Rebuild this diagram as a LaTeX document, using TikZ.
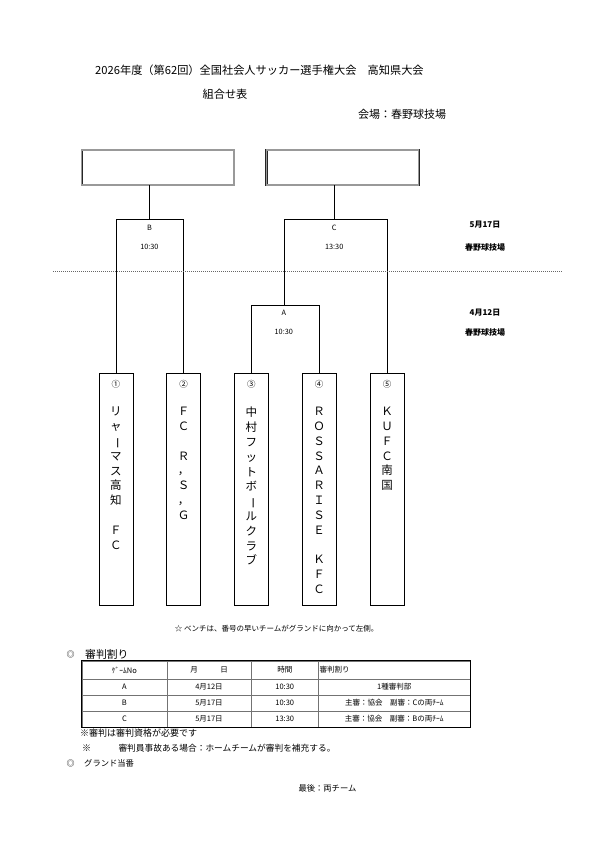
\documentclass[tikz,border=0pt]{standalone}
\usepackage{fontspec}
\usepackage{graphicx}
\newfontfamily\jpfont{Noto Sans CJK JP}
\usetikzlibrary{calc,matrix,positioning}

\newcommand{\tatebar}{\rotatebox[origin=c]{-90}{ー}}

\begin{document}
\begin{tikzpicture}[x=1pt,y=-1pt,font=\jpfont]

  \tikzstyle{finalbox} = [draw=black!85, double=black!40, double distance=1.1pt, line width=0.5pt, rectangle, minimum width=152.3pt, minimum height=35pt, inner sep=0pt]
  \tikzstyle{teambox} = [draw, rectangle, minimum width=34pt, minimum height=231.7pt, line width=0.6pt, inner sep=0pt]
  \tikzstyle{gametag} = [inner sep=0pt, font=\jpfont\fontsize{7.3}{8}\selectfont]
  \tikzstyle{venue} = [inner sep=0pt, font=\jpfont\bfseries\fontsize{8}{9}\selectfont]
  \tikzstyle{seed} = [inner sep=0pt, font=\jpfont\fontsize{8.5}{9}\selectfont]
  \tikzstyle{clubname} = [anchor=north, align=center, inner sep=0pt, font=\jpfont\fontsize{11.5}{14.8}\selectfont]
  \tikzstyle{remark} = [anchor=west, inner sep=0pt, font=\jpfont\fontsize{8.7}{10}\selectfont]

  \useasboundingbox (0,0) rectangle (595,841);

  \node[anchor=west, inner sep=0pt, font=\jpfont\fontsize{11.2}{13}\selectfont] (title) at (95,70.7) {2026年度（第62回）全国社会人サッカー選手権大会　高知県大会};
  \node[inner sep=0pt, font=\jpfont\fontsize{11.2}{13}\selectfont] (subtitle) at (225,94) {組合せ表};
  \node[anchor=west, inner sep=0pt, font=\jpfont\fontsize{11}{13}\selectfont] (place) at (358,114) {会場：春野球技場};

  \node[finalbox] (f1) at (157.85,167.5) {};
  \node[finalbox, right=32pt of f1] (f2) {};

  \node[teambox] (t1) at (115.8,489.2) {};
  \node[teambox, right=33.2pt of t1] (t2) {};
  \node[teambox, right=33.2pt of t2] (t3) {};
  \node[teambox, right=33.2pt of t3] (t4) {};
  \node[teambox, right=33.2pt of t4] (t5) {};

  \node[seed, below=7pt of t1.north] (n1) {①};
  \node[seed, below=7pt of t2.north] (n2) {②};
  \node[seed, below=7pt of t3.north] (n3) {③};
  \node[seed, below=7pt of t4.north] (n4) {④};
  \node[seed, below=7pt of t5.north] (n5) {⑤};

  \node[clubname, below=34pt of t1.north] (club1) {リ\\ャ\\\tatebar\\マ\\ス\\高\\知\\　\\Ｆ\\Ｃ};
  \node[clubname, below=34pt of t2.north] (club2) {Ｆ\\Ｃ\\　\\Ｒ\\，\\Ｓ\\，\\Ｇ};
  \node[clubname, below=34pt of t3.north] (club3) {中\\村\\フ\\ッ\\ト\\ボ\\\tatebar\\ル\\ク\\ラ\\ブ};
  \node[clubname, below=34pt of t4.north] (club4) {Ｒ\\Ｏ\\Ｓ\\Ｓ\\Ａ\\Ｒ\\Ｉ\\Ｓ\\Ｅ\\　\\Ｋ\\Ｆ\\Ｃ};
  \node[clubname, below=34pt of t5.north] (club5) {Ｋ\\Ｕ\\Ｆ\\Ｃ\\南\\国};

  \coordinate (mB) at (149.4,219.3);
  \coordinate (mA) at (283.8,305.7);
  \coordinate (mC) at (334.2,219.3);

  \draw[-,color=black!100,line width=0.6pt] (t1.north) |- (mB) -| (t2.north);
  \draw[-,color=black!100,line width=0.6pt] (t3.north) |- (mA) -| (t4.north);
  \draw[-,color=black!100,line width=0.6pt] (mA) |- (mC) -| (t5.north);
  \draw[-,color=black!100,line width=0.6pt] (mB) -- (mB |- f1.south);
  \draw[-,color=black!100,line width=0.6pt] (mC) -- (mC |- f2.south);

  \node[gametag] (gameB) at (149.4,228) {B};
  \node[gametag] (timeB) at (149.4,247) {10:30};
  \node[gametag] (gameC) at (334.2,228) {C};
  \node[gametag] (timeC) at (334.2,247) {13:30};
  \node[gametag] (gameA) at (283.8,313) {A};
  \node[gametag] (timeA) at (283.8,332) {10:30};

  \node[venue] (day2) at (485,225) {5月17日};
  \node[venue] (field2) at (485,247) {春野球技場};
  \node[venue] (day1) at (485,313) {4月12日};
  \node[venue] (field1) at (485,332) {春野球技場};

  \draw[color=black!60,line width=0.5pt,dash pattern=on 1pt off 1pt] (53,271) -- (563,271);

  \node[inner sep=0pt, font=\jpfont\fontsize{7.5}{9}\selectfont] (bench) at (276.7,628.3) {☆ ベンチは、番号の早いチームがグランドに向かって左側。};

  \node[inner sep=0pt, font=\jpfont\fontsize{8}{9}\selectfont] (mark1) at (70.7,654.3) {◎};
  \node[anchor=west, inner sep=0pt, font=\jpfont\fontsize{10.8}{12}\selectfont] (referees) at (85,654) {審判割り};

  \matrix (table) [matrix of nodes, anchor=north west, inner sep=0pt, column sep=-0.4pt, row sep=-0.4pt,
                   nodes={draw=black!55, line width=0.4pt, rectangle, anchor=center, inner sep=0pt,
                          minimum height=15.9pt, font=\jpfont\fontsize{7.5}{9}\selectfont},
                   row 1/.style={nodes={minimum height=18pt}},
                   column 1/.style={nodes={minimum width=84.7pt}},
                   column 2/.style={nodes={minimum width=84.4pt}},
                   column 3/.style={nodes={minimum width=67.1pt}},
                   column 4/.style={nodes={minimum width=152pt}}] at (81.7,660.7)
  {
    ｹﾞｰﾑNo & 月　　　日 & 時間 & |[text width=152pt, align=left]| \,審判割り \\ %Header
    A & 4月12日 & 10:30 & 1種審判部 \\ %Game A
    B & 5月17日 & 10:30 & 主審：協会　副審：Cの両ﾁｰﾑ \\ %Game B
    C & 5月17日 & 13:30 & 主審：協会　副審：Bの両ﾁｰﾑ \\ %Game C
  };
  \draw[color=black,line width=0.9pt] (table.north west) rectangle (table.south east);

  \node[anchor=west, inner sep=0pt, font=\jpfont\fontsize{9}{10}\selectfont] (rule1) at (80,733) {※審判は審判資格が必要です};
  \node[inner sep=0pt, font=\jpfont\fontsize{9}{10}\selectfont] (mark2) at (86.7,748.3) {※};
  \node[remark] (rule2) at (118.3,748.3) {審判員事故ある場合：ホームチームが審判を補充する。};
  \node[inner sep=0pt, font=\jpfont\fontsize{8}{9}\selectfont] (mark3) at (70.7,763.3) {◎};
  \node[anchor=west, inner sep=0pt, font=\jpfont\fontsize{8.3}{9}\selectfont] (ground) at (84,763.3) {グランド当番};
  \node[anchor=west, inner sep=0pt, font=\jpfont\fontsize{8.3}{9}\selectfont] (last) at (298.3,788.3) {最後：両チーム};

\end{tikzpicture}
\end{document}
